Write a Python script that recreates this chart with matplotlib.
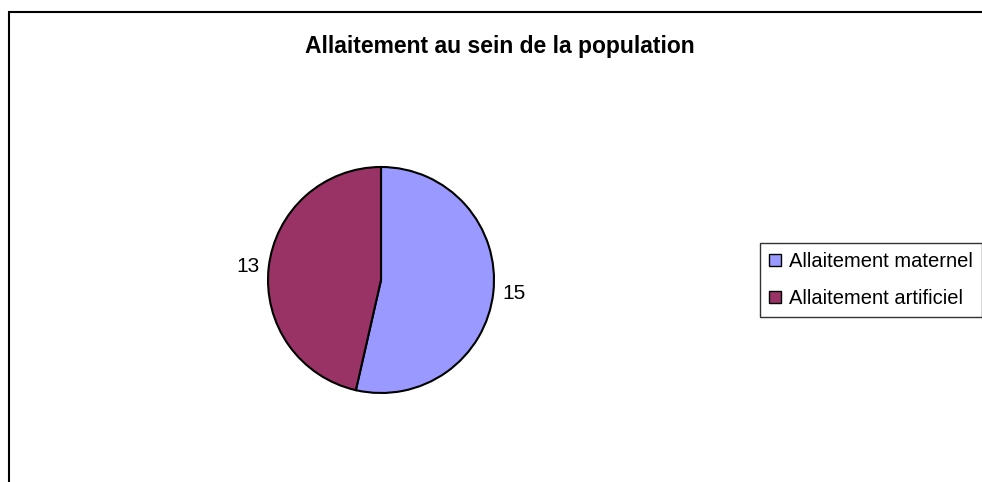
import matplotlib.pyplot as plt
from matplotlib.patches import Rectangle

# Data
categories = ["Allaitement maternel", "Allaitement artificiel"]
values = [15, 13]
colors = ["#9999FF", "#993366"]

W, H = 982, 482
fig = plt.figure(figsize=(W / 100, H / 100), dpi=100)
fig.patch.set_facecolor("white")

# outer chart frame (right and bottom edges run off the picture)
frame = Rectangle((8.5 / W, -0.05), 1.1, 1 - 11.5 / H + 0.05,
                  transform=fig.transFigure, fill=False,
                  edgecolor="black", linewidth=1.5, zorder=10)
fig.patches.append(frame)

fig.text(500 / W, 1 - 46 / H, "Allaitement au sein de la population",
         ha="center", va="center", fontsize=16.5, fontweight="bold",
         family="Liberation Sans")

# pie
cx, cy, r = 381, 280, 113
ax = fig.add_axes([(cx - r) / W, (H - cy - r) / H, 2 * r / W, 2 * r / H])
wedges, texts = ax.pie(values, colors=colors, startangle=90, counterclock=False,
                       labels=[str(v) for v in values], labeldistance=1.08,
                       wedgeprops=dict(edgecolor="black", linewidth=1.5),
                       textprops=dict(fontsize=15, family="Liberation Sans"))
ax.set_xlim(-1, 1)
ax.set_ylim(-1, 1)
ax.set_aspect("equal")

leg = fig.legend(wedges, categories, loc="upper left",
                 bbox_to_anchor=(760 / W, 1 - 243 / H),
                 prop=dict(family="Liberation Sans", size=14.5),
                 frameon=True, fancybox=False, edgecolor="black",
                 handlelength=0.6, handleheight=0.6, handletextpad=0.4,
                 borderpad=0.45, labelspacing=0.9, borderaxespad=0)
leg.get_frame().set_linewidth(1.0)
for h in leg.legend_handles:
    h.set_edgecolor("black")
    h.set_linewidth(1.0)

fig.savefig("out.png", dpi=100)
